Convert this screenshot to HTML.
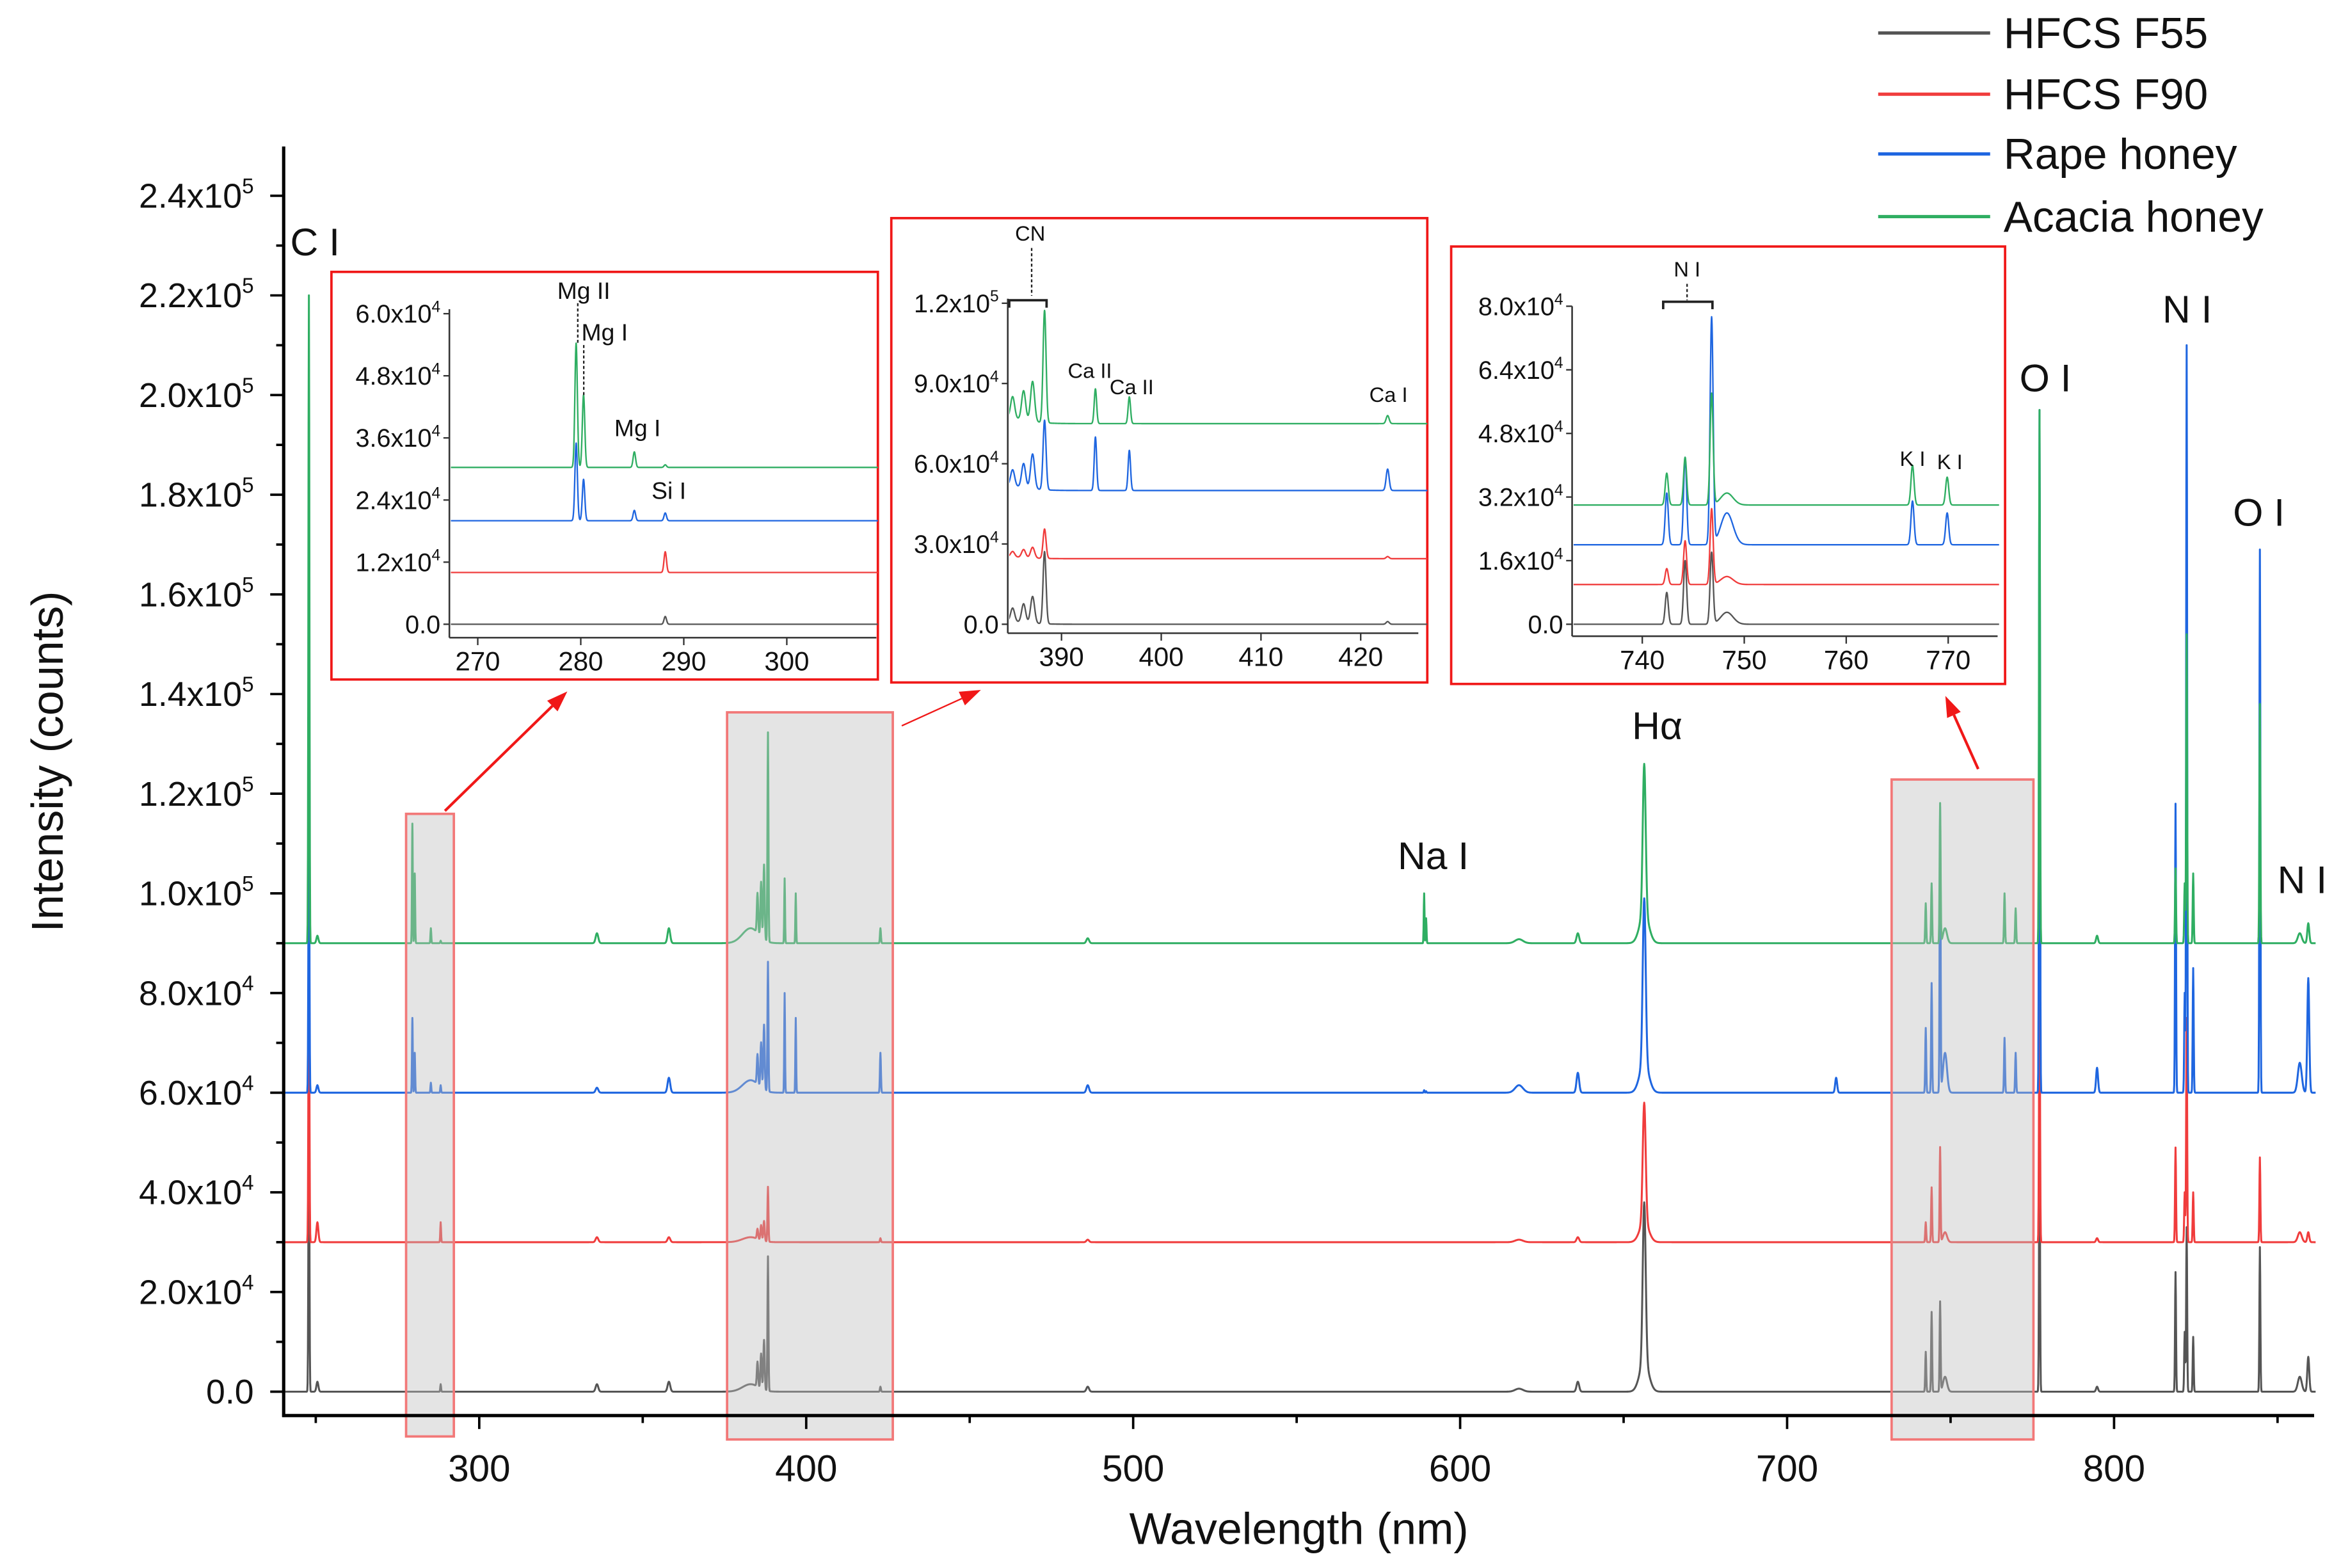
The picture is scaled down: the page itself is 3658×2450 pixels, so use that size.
<!DOCTYPE html>
<html><head><meta charset="utf-8">
<style>
html,body{margin:0;padding:0;background:#fff;}
svg{display:block;}
text{font-family:"Liberation Sans",Arial,sans-serif;fill:#111;}
</style></head>
<body>
<svg id="chart" width="3658" height="2450" viewBox="0 0 1568 1050" xmlns="http://www.w3.org/2000/svg">
<rect x="0" y="0" width="1568" height="1050" fill="#fff"/>
<defs>
<clipPath id="clipMain"><rect x="191" y="90" width="1360" height="857"/></clipPath>
<clipPath id="clipI1"><rect x="302" y="190" width="286" height="237"/></clipPath>
<clipPath id="clipI2"><rect x="676" y="150" width="280" height="274"/></clipPath>
<clipPath id="clipI3"><rect x="1054" y="170" width="285" height="256"/></clipPath>
</defs>
<g id="mainSeries" clip-path="url(#clipMain)"></g>
<g id="boxes"></g>
<g id="mainAxes"></g>
<g id="insets"></g>
<g id="labels"></g>
<g id="legend"></g>
</svg>
<script>
// ---------- data ----------
const seriesNames = ["HFCS F55","HFCS F90","Rape honey","Acacia honey"];
const seriesColors = ["#555555","#f03c3c","#1f66e0","#2fae62"];
const seriesOffsets = [0, 30000, 60000, 90000];
// emission line centres (nm) and widths (nm)
const lineWl =    [247.9,250.5,279.55,280.27,285.2,288.2,336,358,383,385.1,386.2,387.1,388.3,393.4,396.8,422.7,486.1,588.99,589.6,656.3,656.3,742.4,744.2,746.8,748.3,766.5,769.9,777.2,794.8,818.8,821.6,822.2,824.2,844.6,856.8,859.4,862.9,715,636,618];
const lineWidth = [0.15,0.3,0.12,0.12,0.12,0.12,0.4,0.4,2.5,0.2,0.2,0.2,0.15,0.12,0.12,0.15,0.4,0.12,0.12,0.45,1.4,0.15,0.15,0.15,0.6,0.15,0.15,0.15,0.3,0.15,0.15,0.15,0.15,0.15,0.6,0.3,0.15,0.3,0.4,1.2];
// heights (counts) per series
const hBlack = [60000,2000,0,0,0,1500,1500,2000,1500,5000,7000,10000,27000,0,0,1000,1000,0,0,32000,6000,8000,16000,18000,3000,0,0,55000,1000,24000,12000,33000,11000,29000,3000,7000,8000,0,2000,600];
const hRed =   [60000,4000,0,0,0,4000,1000,1000,1000,2000,3000,4000,11000,0,0,800,500,0,0,24000,4000,4000,11000,19000,2000,0,0,55000,800,19000,10000,45000,10000,17000,2000,2000,3000,0,1000,500];
const hBlue =  [60000,1500,15000,8000,2000,1500,1000,3000,2500,6000,9000,13000,26000,20000,15000,8000,1500,500,300,33000,6000,13000,22000,57000,8000,11000,8000,137000,5000,58000,20000,150000,25000,109000,6000,23000,22000,3000,4000,1500];
const hGreen = [130000,1500,24000,14000,3000,500,2000,3000,3000,8000,11000,15000,42000,13000,10000,3000,1000,10000,5000,30000,6000,8000,12000,28000,3000,10000,7000,107000,1500,15000,12000,62000,14000,48000,2000,4000,9000,0,2000,800];
const heights = [hBlack,hRed,hBlue,hGreen];
// axis ticks
const mainYTicks = [0,20000,40000,60000,80000,100000,120000,140000,160000,180000,200000,220000,240000];
const mainYLabels = ["0.0","2.0x10|4","4.0x10|4","6.0x10|4","8.0x10|4","1.0x10|5","1.2x10|5","1.4x10|5","1.6x10|5","1.8x10|5","2.0x10|5","2.2x10|5","2.4x10|5"];
const mainXTicks = [300,400,500,600,700,800];
const inset1Offsets = [0,10000,20000,30300];
const inset1YTicks = [0,12000,24000,36000,48000,60000];
const inset1YLabels = ["0.0","1.2x10|4","2.4x10|4","3.6x10|4","4.8x10|4","6.0x10|4"];
const inset1XTicks = [270,280,290,300];
const inset2Offsets = [0,24500,50000,75000];
const inset2YTicks = [0,30000,60000,90000,120000];
const inset2YLabels = ["0.0","3.0x10|4","6.0x10|4","9.0x10|4","1.2x10|5"];
const inset2XTicks = [390,400,410,420];
const inset3Offsets = [0,10000,20000,30000];
const inset3YTicks = [0,16000,32000,48000,64000,80000];
const inset3YLabels = ["0.0","1.6x10|4","3.2x10|4","4.8x10|4","6.4x10|4","8.0x10|4"];
const inset3XTicks = [740,750,760,770];

const NS="http://www.w3.org/2000/svg";
function mk(tag,attrs,parent){const e=document.createElementNS(NS,tag);for(const k in attrs)e.setAttribute(k,attrs[k]);if(parent)parent.appendChild(e);return e;}
function intensity(s,w){let v=0;const h=heights[s];for(let i=0;i<lineWl.length;i++){const d=(w-lineWl[i])/lineWidth[i];if(d>-6&&d<6)v+=h[i]*Math.exp(-0.5*d*d);}return v;}
function samplePts(w0,w1,step){const pts=[];for(let w=w0;w<=w1;w+=step)pts.push(w);lineWl.forEach(c=>{if(c>=w0&&c<=w1)pts.push(c);});return pts.sort((a,b)=>a-b);}
function tickLabel(parent,x,y,str,size,anchor){
  const t=mk('text',{x:x,y:y,'font-size':size,'text-anchor':anchor||'end'},parent);
  const p=str.split('|');t.appendChild(document.createTextNode(p[0]));
  if(p[1]){const ts=mk('tspan',{'font-size':size*0.62,dy:-size*0.42},t);ts.textContent=p[1];}
  return t;
}
// ---------- main plot ----------
const X=w=>321+(w-300)*2.19;
const Y=v=>932-v*66.75/20000;
const mainG=document.getElementById('mainSeries');
const mainPts=samplePts(240,862,0.1);
for(let s=0;s<4;s++){
  let d='';mainPts.forEach((w,i)=>{d+=(i?'L':'M')+X(w).toFixed(2)+','+Y(seriesOffsets[s]+intensity(s,w)).toFixed(2);});
  const p=mk('path',{d:d,fill:'none',stroke:seriesColors[s],'stroke-width':1.3,'stroke-linejoin':'round'},mainG);
  
  
}
// zoom boxes
const boxes=document.getElementById('boxes');
[[272,545,32,417,'zoom-box-270-300'],[487,477,111,487,'zoom-box-380-420'],[1267,522,95,442,'zoom-box-735-775']].forEach(b=>{
  const r=mk('rect',{x:b[0],y:b[1],width:b[2],height:b[3],fill:'rgba(190,190,190,0.42)',stroke:'#f27878','stroke-width':1.6},boxes);
  
  
});
// arrows
[[298,543,380,463],[604,486,657,462],[1325,515,1303,466]].forEach((a,i)=>{
  const g=mk('g',{},boxes);
  
  
  const ang=Math.atan2(a[3]-a[1],a[2]-a[0]);const L=14,W=5;
  const bx=a[2]-L*Math.cos(ang),by=a[3]-L*Math.sin(ang);
  mk('line',{x1:a[0],y1:a[1],x2:bx,y2:by,stroke:'#f01818','stroke-width':i==1?1:1.8},g);
  mk('polygon',{points:`${a[2]},${a[3]} ${bx-W*Math.sin(ang)},${by+W*Math.cos(ang)} ${bx+W*Math.sin(ang)},${by-W*Math.cos(ang)}`,fill:'#f01818'},g);
});
// main axes
const ax=document.getElementById('mainAxes');
mk('line',{x1:190,y1:98,x2:190,y2:949,stroke:'#000','stroke-width':2.2},ax);
mk('line',{x1:189,y1:948,x2:1550,y2:948,stroke:'#000','stroke-width':2.2},ax);
for(let v=0;v<=250000;v+=10000){const y=Y(v);if(y<98)continue;mk('line',{x1:(v%20000==0)?181:185,y1:y,x2:190,y2:y,stroke:'#000','stroke-width':1.6},ax);}
mainYTicks.forEach((v,i)=>{const t=tickLabel(ax,170,Y(v)+8,mainYLabels[i],23);});
for(let w=250;w<=850;w+=50){const x=X(w);mk('line',{x1:x,y1:948,x2:x,y2:(w%100==0)?957:953,stroke:'#000','stroke-width':1.6},ax);}
mainXTicks.forEach(w=>{const t=mk('text',{x:X(w),y:992,'font-size':25,'text-anchor':'middle'},ax);t.textContent=w;});
const xt=mk('text',{x:870,y:1034,'font-size':30,'text-anchor':'middle'},ax);xt.textContent='Wavelength (nm)';

const yt=mk('text',{x:0,y:0,'font-size':30,'text-anchor':'middle',transform:'translate(42,510) rotate(-90)'},ax);yt.textContent='Intensity (counts)';


// ---------- insets ----------
function inset(cfg){
  const g=mk('g',{},document.getElementById('insets'));
  
  
  mk('rect',{x:cfg.box[0],y:cfg.box[1],width:cfg.box[2],height:cfg.box[3],fill:'#fff',stroke:'#f01818','stroke-width':1.6},g);
  const ix=w=>cfg.xa[0]+(w-cfg.xa[1])*cfg.xa[2];
  const iy=v=>cfg.ya[0]-v*cfg.ya[1];
  const sg=mk('g',{'clip-path':'url(#'+cfg.clip+')'},g);
  const pts=samplePts(cfg.wr[0],cfg.wr[1],0.02);
  for(let s=0;s<4;s++){
    let d='';pts.forEach((w,i)=>{d+=(i?'L':'M')+ix(w).toFixed(2)+','+iy(cfg.offs[s]+intensity(s,w)).toFixed(2);});
    const p=mk('path',{d:d,fill:'none',stroke:seriesColors[s],'stroke-width':1,'stroke-linejoin':'round'},sg);
    
    
  }
  const a=cfg.axes;
  mk('line',{x1:a[0],y1:a[1],x2:a[0],y2:a[2],stroke:'#333','stroke-width':1.1},g);
  mk('line',{x1:a[0],y1:a[2],x2:a[3],y2:a[2],stroke:'#333','stroke-width':1.1},g);
  cfg.yt.forEach((v,i)=>{const y=iy(v);mk('line',{x1:a[0]-4,y1:y,x2:a[0],y2:y,stroke:'#333','stroke-width':1},g);
    const t=tickLabel(g,a[0]-6,y+6,cfg.yl[i],17);});
  cfg.xt.forEach(w=>{const x=ix(w);mk('line',{x1:x,y1:a[2],x2:x,y2:a[2]+5,stroke:'#333','stroke-width':1},g);
    const t=mk('text',{x:x,y:a[2]+22,'font-size':18,'text-anchor':'middle'},g);t.textContent=w;});
  return g;
}
inset({name:'inset-mg-region',box:[222,182,366,273],clip:'clipI1',xa:[320,270,6.9],ya:[418,208/60000],offs:inset1Offsets,wr:[266,309],axes:[301,207,427,587],yt:inset1YTicks,yl:inset1YLabels,xt:inset1XTicks});
inset({name:'inset-cn-region',box:[597,146,359,311],clip:'clipI2',xa:[711,390,6.68],ya:[418,215/120000],offs:inset2Offsets,wr:[384,427],axes:[675,200,424,950],yt:inset2YTicks,yl:inset2YLabels,xt:inset2XTicks});
inset({name:'inset-n-k-region',box:[972,165,371,293],clip:'clipI3',xa:[1100,740,6.83],ya:[418,213/80000],offs:inset3Offsets,wr:[733,775],axes:[1053,205,426,1338],yt:inset3YTicks,yl:inset3YLabels,xt:inset3XTicks});

// ---------- annotations ----------
const lab=document.getElementById('labels');
function ann(x,y,txt,size,name){
  const t=mk('text',{x:x,y:y,'font-size':size,'text-anchor':'middle'},lab);
  t.textContent=txt;
  
  
}
ann(211,171,'C I',26,'label-c-i');
ann(960,582,'Na I',26,'label-na-i');
ann(1110,495,'Hα',26,'label-h-alpha');
ann(1370,262,'O I',26,'label-o-i-777');
ann(1465,216,'N I',26,'label-n-i-822');
ann(1513,352,'O I',26,'label-o-i-845');
ann(1542,598,'N I',26,'label-n-i-860');
ann(391,200,'Mg II',16,'label-mg-ii');
ann(405,228,'Mg I',16,'label-mg-i-280');
ann(427,292,'Mg I',16,'label-mg-i-285');
ann(448,334,'Si I',16,'label-si-i');
ann(690,161,'CN',14,'label-cn');
ann(730,253,'Ca II',14,'label-ca-ii-393');
ann(758,264,'Ca II',14,'label-ca-ii-397');
ann(930,269,'Ca I',14,'label-ca-i');
ann(1130,185,'N I',14,'label-n-i-inset');
ann(1281,312,'K I',14,'label-k-i-766');
ann(1306,314,'K I',14,'label-k-i-770');
[[387,203,387,230],[391,231,391,265],[691,166,691,198],[1130,190,1130,201]].forEach(l=>{mk('line',{x1:l[0],y1:l[1],x2:l[2],y2:l[3],stroke:'#222','stroke-width':1,'stroke-dasharray':'2,1.5'},lab);});
mk('path',{d:'M676,206 L676,201 L701,201 L701,206',fill:'none',stroke:'#222','stroke-width':1.6},lab);
mk('path',{d:'M1114,207 L1114,202 L1147,202 L1147,207',fill:'none',stroke:'#222','stroke-width':1.6},lab);

// ---------- legend ----------
const lg=document.getElementById('legend');
const legY=[22,63,103,145];
seriesNames.forEach((n,i)=>{
  const g=mk('g',{},lg);
  
  
  mk('line',{x1:1258,y1:legY[i],x2:1333,y2:legY[i],stroke:seriesColors[i],'stroke-width':2.2},g);
  const t=mk('text',{x:1342,y:legY[i]+10,'font-size':29},g);t.textContent=n;
});
</script>
</body></html>
